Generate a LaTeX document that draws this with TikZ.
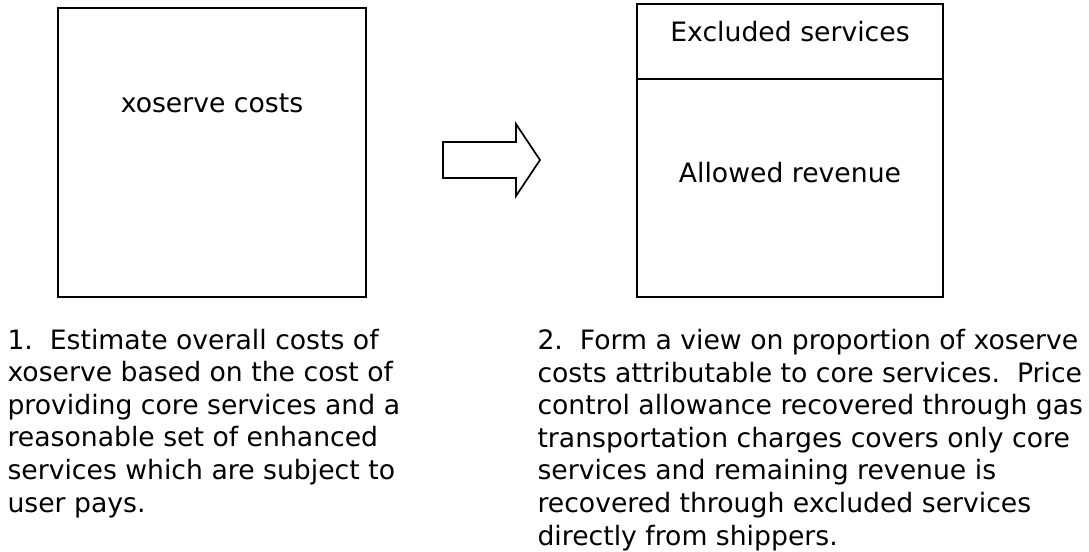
\documentclass[tikz,border=0pt]{standalone}
\usepackage{fontspec}
\setmainfont{DejaVu Sans}
\tikzset{every picture/.style={line width=0.75pt}}
\tikzset{boxtext/.style={font=\fontsize{20}{24.4}\selectfont, inner sep=0pt}}

\begin{document}
\begin{tikzpicture}[x=0.75pt,y=0.75pt,yscale=-1,xscale=1]
%set diagram left start at 0, and has height of 552
\path[use as bounding box] (0,0) rectangle (1089,552);

%Shape: Rectangle [costs]
\draw [line width=1.3pt]  (58,8) -- (366,8) -- (366,297) -- (58,297) -- cycle ;
%Shape: Rectangle [revenue]
\draw [line width=1.3pt]  (637,4) -- (943,4) -- (943,297) -- (637,297) -- cycle ;
%Straight Lines [split]
\draw [line width=1.3pt]  (637,79) -- (943,79) ;
%Shape: Right Arrow
\draw [line width=1.3pt]  (443,142) -- (516,142) -- (516,124) -- (540,160) -- (516,196) -- (516,178) -- (443,178) -- cycle ;

% Text Node
\draw (212,103) node [boxtext] (costs) {xoserve costs};
% Text Node
\draw (790,32) node [boxtext] (excl) {Excluded services};
% Text Node
\draw (790,173) node [boxtext] (allowed) {Allowed revenue};
% Text Node
\draw (7,512) node [boxtext, anchor=base west, align=left] (stepone) {1.~~Estimate overall costs of\\xoserve based on the cost of\\providing core services and a\\reasonable set of enhanced\\services which are subject to\\user pays.};
% Text Node
\draw (537,545) node [boxtext, anchor=base west, align=left] (steptwo) {2.~~Form a view on proportion of xoserve\\costs attributable to core services.~~Price\\control allowance recovered through gas\\transportation charges covers only core\\services and remaining revenue is\\recovered through excluded services\\directly from shippers.};

\end{tikzpicture}
\end{document}
